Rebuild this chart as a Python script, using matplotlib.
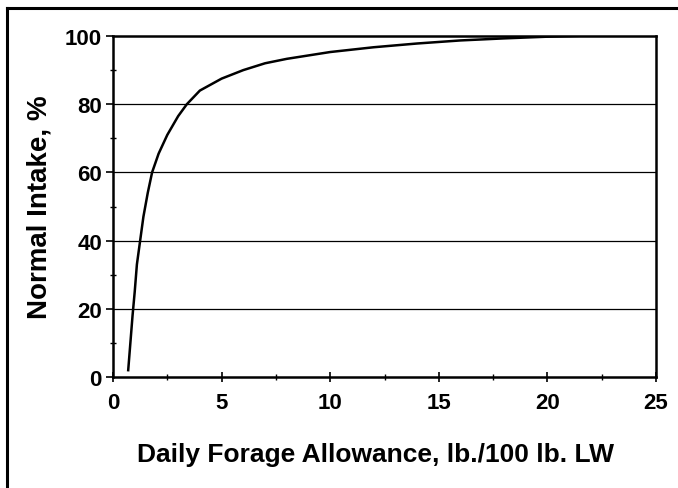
import numpy as np
import matplotlib.pyplot as plt
from matplotlib.lines import Line2D
from matplotlib.ticker import MultipleLocator

plt.rcParams['font.family'] = ['Liberation Sans', 'DejaVu Sans']
plt.rcParams['font.weight'] = 'bold'

# daily forage allowance (lb./100 lb. LW) vs normal intake (%)
allowance = [0.7, 0.8, 0.9, 1.0, 1.1, 1.25, 1.4, 1.6, 1.8, 2.1, 2.5, 3.0,
             3.4, 4.0, 5.0, 6.0, 7.0, 8.0, 10.0, 12.0, 14.0, 16.0, 18.0,
             20.0, 22.2]
intake = [2, 10, 18, 25, 33, 40, 47, 54, 60, 65.5, 71, 76.5,
          80, 84, 87.5, 90, 92, 93.3, 95.3, 96.7, 97.8, 98.7, 99.3,
          99.8, 100.2]

x_ticks = [0, 5, 10, 15, 20, 25]
y_ticks = [0, 20, 40, 60, 80, 100]

fig = plt.figure(figsize=(6.78, 4.89), dpi=100)
ax = fig.add_axes([113/678, 111/489, 543/678, 341/489])

for yv in y_ticks[1:-1]:
    ax.axhline(yv, color='black', lw=0.9, zorder=1)

ax.plot(allowance, intake, color='black', lw=1.8, zorder=3)

ax.set_xlim(0, 25)
ax.set_ylim(0, 100)
ax.set_xticks(x_ticks)
ax.set_yticks(y_ticks)
ax.xaxis.set_minor_locator(MultipleLocator(2.5))
ax.yaxis.set_minor_locator(MultipleLocator(10))
ax.tick_params(which='both', direction='inout', length=7, width=1.2,
               labelsize=16, top=False, right=False)
ax.tick_params(which='minor', length=5, width=1)
ax.tick_params(axis='y', which='major', direction='out', length=5, pad=3)
ax.tick_params(axis='x', pad=7)
for s in ax.spines.values():
    s.set_linewidth(1.8)

ax.set_xlabel('Daily Forage Allowance, lb./100 lb. LW', fontsize=19,
              fontweight='bold', labelpad=21)
ax.xaxis.label.set_x(0.483)
ax.set_ylabel('Normal Intake, %', fontsize=20, fontweight='bold', labelpad=9)

# outer frame of the figure (top and left edges)
fig.add_artist(Line2D([7/678, 1.0], [1 - 9/489, 1 - 9/489], color='black',
                      lw=2.2, transform=fig.transFigure))
fig.add_artist(Line2D([7/678, 7/678], [0, 1 - 9/489], color='black',
                      lw=2.2, transform=fig.transFigure))

fig.savefig('out.png', dpi=100)
